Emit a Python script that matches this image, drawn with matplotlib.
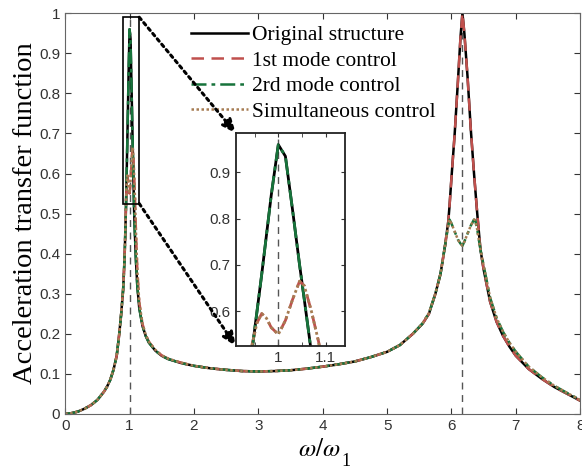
import matplotlib
matplotlib.use("Agg")
import matplotlib.pyplot as plt
from matplotlib.patches import Rectangle, ConnectionPatch

# frequency ratio w/w1 and the four transfer functions
freq = [0, 0.1, 0.2, 0.3, 0.4, 0.5, 0.6, 0.65, 0.7, 0.75,
        0.8, 0.84, 0.87, 0.9, 0.92, 0.93, 0.945, 0.955, 0.965, 0.975,
        0.985, 1.0, 1.015, 1.03, 1.045, 1.055, 1.07, 1.085, 1.1, 1.12,
        1.15, 1.2, 1.25, 1.3, 1.4, 1.5, 1.6, 1.8, 2.0, 2.25,
        2.5, 2.75, 3.0, 3.25, 3.5, 3.75, 4.0, 4.25, 4.5, 4.75,
        5.0, 5.2, 5.4, 5.55, 5.65, 5.75, 5.83, 5.9, 5.95, 5.97,
        6.0, 6.05, 6.1, 6.14, 6.17, 6.2, 6.25, 6.3, 6.35, 6.37,
        6.4, 6.45, 6.5, 6.6, 6.7, 6.8, 6.9, 7.0, 7.2, 7.4,
        7.6, 7.8, 8.0]
original = [0, 0.002, 0.006, 0.013, 0.022, 0.035, 0.055, 0.068, 0.085, 0.11,
            0.145, 0.2, 0.25, 0.31, 0.38, 0.43, 0.52, 0.60, 0.68, 0.765,
            0.85, 0.96, 0.935, 0.82, 0.70, 0.625, 0.51, 0.44, 0.38, 0.32,
            0.265, 0.22, 0.195, 0.178, 0.158, 0.145, 0.137, 0.127, 0.12, 0.114,
            0.11, 0.107, 0.106, 0.107, 0.109, 0.113, 0.118, 0.124, 0.131, 0.142,
            0.155, 0.172, 0.2, 0.225, 0.25, 0.30, 0.35, 0.42, 0.48, 0.52,
            0.59, 0.70, 0.83, 0.94, 1.0, 0.95, 0.84, 0.71, 0.60, 0.56,
            0.50, 0.41, 0.36, 0.28, 0.23, 0.195, 0.168, 0.145, 0.112, 0.088,
            0.067, 0.05, 0.033]
mode1 = [0, 0.002, 0.006, 0.013, 0.022, 0.035, 0.055, 0.068, 0.085, 0.11,
         0.145, 0.2, 0.25, 0.31, 0.38, 0.43, 0.53, 0.575, 0.595, 0.585,
         0.565, 0.55, 0.58, 0.625, 0.665, 0.655, 0.60, 0.535, 0.45, 0.36,
         0.28, 0.225, 0.198, 0.18, 0.16, 0.146, 0.138, 0.128, 0.12, 0.114,
         0.11, 0.107, 0.106, 0.107, 0.109, 0.113, 0.118, 0.124, 0.131, 0.142,
         0.155, 0.172, 0.2, 0.225, 0.25, 0.30, 0.35, 0.42, 0.48, 0.52,
         0.59, 0.70, 0.83, 0.94, 1.0, 0.95, 0.84, 0.71, 0.60, 0.56,
         0.50, 0.41, 0.36, 0.28, 0.23, 0.195, 0.168, 0.145, 0.112, 0.088,
         0.067, 0.05, 0.033]
mode2 = [0, 0.002, 0.006, 0.013, 0.022, 0.035, 0.055, 0.068, 0.085, 0.11,
         0.145, 0.2, 0.25, 0.31, 0.38, 0.43, 0.52, 0.60, 0.68, 0.765,
         0.85, 0.96, 0.935, 0.82, 0.70, 0.625, 0.51, 0.44, 0.38, 0.32,
         0.265, 0.22, 0.195, 0.178, 0.158, 0.145, 0.137, 0.127, 0.12, 0.114,
         0.11, 0.107, 0.106, 0.107, 0.109, 0.113, 0.118, 0.124, 0.131, 0.142,
         0.155, 0.172, 0.2, 0.226, 0.252, 0.30, 0.35, 0.42, 0.47, 0.485,
         0.475, 0.455, 0.435, 0.425, 0.42, 0.43, 0.45, 0.47, 0.485, 0.483,
         0.46, 0.41, 0.37, 0.29, 0.24, 0.205, 0.178, 0.155, 0.118, 0.092,
         0.07, 0.052, 0.035]
both = [0, 0.002, 0.006, 0.013, 0.022, 0.035, 0.055, 0.068, 0.085, 0.11,
        0.145, 0.2, 0.25, 0.31, 0.38, 0.43, 0.53, 0.575, 0.595, 0.585,
        0.565, 0.55, 0.58, 0.625, 0.665, 0.655, 0.60, 0.535, 0.45, 0.36,
        0.28, 0.225, 0.198, 0.18, 0.16, 0.146, 0.138, 0.128, 0.12, 0.114,
        0.11, 0.107, 0.106, 0.107, 0.109, 0.113, 0.118, 0.124, 0.131, 0.142,
        0.155, 0.172, 0.2, 0.226, 0.252, 0.30, 0.35, 0.42, 0.47, 0.485,
        0.475, 0.455, 0.435, 0.425, 0.42, 0.43, 0.45, 0.47, 0.485, 0.483,
        0.46, 0.41, 0.37, 0.29, 0.24, 0.205, 0.178, 0.155, 0.118, 0.092,
        0.07, 0.052, 0.035]
peaks = [1.0, 6.17]

labels = ['Original structure', '1st mode control', '2rd mode control',
          'Simultaneous control']
serif = ['Liberation Serif', 'DejaVu Serif']
sans = ['Liberation Sans', 'DejaVu Sans']

plt.rcParams['font.family'] = sans
plt.rcParams['mathtext.fontset'] = 'stix'


def draw(ax, lw=1.8):
    ax.plot(freq, original, color='black', lw=lw, ls='-', label=labels[0])
    ax.plot(freq, mode1, color='#c0504d', lw=lw, ls=(0, (5, 3)), label=labels[1])
    ax.plot(freq, mode2, color='#17733b', lw=lw, ls=(0, (6, 2, 1.5, 2)), label=labels[2])
    ax.plot(freq, both, color='#a67c52', lw=lw, ls=(0, (1, 1)), label=labels[3])


fig = plt.figure(figsize=(5.82, 4.72), dpi=100)
ax = fig.add_axes([0.112, 0.123, 0.885, 0.849])
for p in peaks:
    ax.axvline(p, color='#555555', ls=(0, (5, 4)), lw=1)
draw(ax)
ax.set_xlim(0, 8)
ax.set_ylim(0, 1)
ax.set_xticks(range(9))
ax.set_yticks([i / 10 for i in range(11)])
ax.set_yticklabels(['0'] + ['0.%d' % i for i in range(1, 10)] + ['1'])
ax.tick_params(direction='in', top=True, right=True, labelsize=11, colors='#333333',
               length=4, width=0.8)
for s in ax.spines.values():
    s.set_color('#666666')
    s.set_linewidth(0.8)
ax.set_ylabel('Acceleration transfer function', family=serif, fontsize=20.5, labelpad=1)
# x label: MATLAB puts the subscript well below the baseline
fig.text(0.549, 1 - 456 / 472, r'$\omega/\omega$', fontsize=18, ha='center', va='baseline')
fig.text(0.586, 1.5 / 472, '1', family=serif, fontsize=13, ha='left', va='bottom')
ax.legend(loc='upper left', bbox_to_anchor=(0.245, 0.97), frameon=False,
          prop={'family': serif, 'size': 15.5}, handlelength=2.65, handletextpad=0.15,
          labelspacing=0.25, borderaxespad=0, borderpad=0)

# zoom box around the first peak
x0, x1, y0, y1 = 0.9, 1.15, 0.525, 0.99
ax.add_patch(Rectangle((x0, y0), x1 - x0, y1 - y0, fill=False, ec='black', lw=1.2, zorder=5))

ins = fig.add_axes([0.405, 0.267, 0.187, 0.451])
ins.axvline(1.0, color='#555555', ls=(0, (5, 4)), lw=1)
draw(ins, lw=2.0)
ins.set_xlim(0.91, 1.14)
ins.set_ylim(0.525, 0.985)
ins.set_xticks([1.0, 1.1])
ins.set_xticklabels(['1', '1.1'])
ins.set_xticks([0.95, 1.05], minor=True)
ins.set_yticks([0.6, 0.7, 0.8, 0.9])
ins.tick_params(which='both', direction='in', top=True, right=True, labelsize=11,
                colors='#333333', length=3)
for s in ins.spines.values():
    s.set_color('#222222')
    s.set_linewidth(1.3)

for ya, yb in [(y1, 0.985), (y0, 0.525)]:
    con = ConnectionPatch(xyA=(x1, ya), coordsA=ax.transData,
                          xyB=(0.91, yb), coordsB=ins.transData,
                          arrowstyle='-|>,head_length=0.8,head_width=0.35',
                          ls=(0, (1, 1.3)), lw=2.2, color='black', zorder=10)
    fig.add_artist(con)

fig.savefig('out.png', dpi=100)
